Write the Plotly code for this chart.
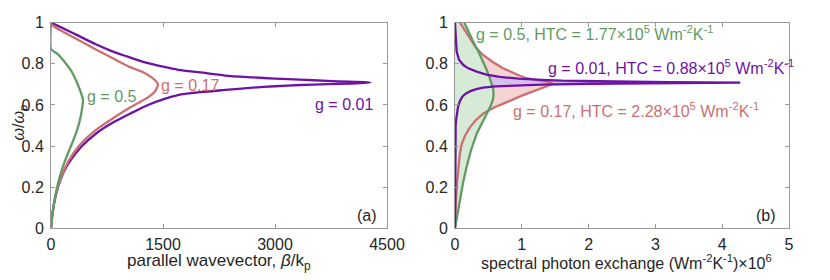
import plotly.graph_objects as go

# ---------- panel (a): dispersion, omega/omega_p vs beta/k_p ----------
beta_g001 = [0, 150, 366, 600, 812, 1000, 1259, 1500, 1705, 2000, 2330, 2700, 3000, 3334, 3700, 4000, 4280,
             4000, 3700, 3334, 3000, 2700, 2330, 2000, 1700, 1500, 1299, 1100, 853, 600, 406, 280, 183, 120, 71, 40, 15, 0]
omega_g001 = [1.0, 0.975, 0.937, 0.895, 0.862, 0.838, 0.807, 0.786, 0.771, 0.758, 0.743, 0.734, 0.728, 0.723, 0.717, 0.713, 0.709,
              0.704, 0.701, 0.697, 0.691, 0.684, 0.673, 0.662, 0.648, 0.627, 0.600, 0.565, 0.519, 0.460, 0.397, 0.340, 0.284, 0.230, 0.170, 0.120, 0.060, 0.0]

beta_g017 = [5, 150, 366, 600, 853, 1050, 1214, 1299, 1380, 1433, 1420, 1389, 1300, 1075, 850, 630, 450, 300, 183, 100, 40, 0]
omega_g017 = [0.99, 0.958, 0.916, 0.870, 0.822, 0.785, 0.762, 0.746, 0.725, 0.700, 0.685, 0.664, 0.637, 0.591, 0.540, 0.486, 0.430, 0.365, 0.290, 0.210, 0.120, 0.0]

beta_g05 = [0, 0, 30, 98, 180, 277, 340, 380, 410, 425, 428, 415, 395, 368, 333, 290, 245, 195, 145, 88, 49, 20, 0]
omega_g05 = [1.0, 0.872, 0.862, 0.845, 0.810, 0.762, 0.715, 0.680, 0.650, 0.630, 0.615, 0.580, 0.540, 0.500, 0.460, 0.420, 0.381, 0.335, 0.284, 0.210, 0.138, 0.070, 0.0]

# ---------- panel (b): spectral photon exchange (x1e6) vs omega/omega_p ----------
omega_b001 = [0, 0.3, 0.45, 0.5, 0.53, 0.56, 0.59, 0.62, 0.64, 0.655, 0.667, 0.677, 0.684, 0.69, 0.695, 0.699, 0.703, 0.706, 0.709,
              0.711, 0.714, 0.718, 0.722, 0.728, 0.737, 0.748, 0.762, 0.778, 0.794, 0.82, 0.86, 0.93, 1.0]
spe_b001 = [0, 0.002, 0.005, 0.01, 0.018, 0.03, 0.045, 0.075, 0.11, 0.16, 0.23, 0.32, 0.42, 0.60, 0.90, 1.3, 2.0, 3.0, 4.27,
            3.2, 2.3, 1.6, 1.3, 0.95, 0.67, 0.47, 0.325, 0.2, 0.125, 0.06, 0.025, 0.01, 0.0]

omega_b017 = [0, 0.07, 0.14, 0.22, 0.30, 0.36, 0.41, 0.45, 0.49, 0.525, 0.56, 0.59, 0.61, 0.63, 0.645, 0.66, 0.675, 0.688,
              0.698, 0.705, 0.712, 0.72, 0.73, 0.742, 0.755, 0.78, 0.81, 0.843, 0.88, 0.924, 0.96, 1.0]
spe_b017 = [0, 0.005, 0.015, 0.03, 0.05, 0.072, 0.10, 0.15, 0.22, 0.31, 0.43, 0.60, 0.75, 0.88, 1.0, 1.12, 1.25, 1.35,
            1.43, 1.46, 1.40, 1.25, 1.07, 0.97, 0.88, 0.71, 0.56, 0.42, 0.31, 0.225, 0.15, 0.075]

omega_b05 = [0, 0.07, 0.14, 0.22, 0.30, 0.38, 0.46, 0.52, 0.56, 0.60, 0.63, 0.655, 0.68, 0.70, 0.73, 0.77, 0.81, 0.86, 0.91, 0.955, 1.0]
spe_b05 = [0, 0.035, 0.075, 0.12, 0.175, 0.24, 0.325, 0.42, 0.48, 0.54, 0.57, 0.578, 0.57, 0.553, 0.52, 0.475, 0.42, 0.35, 0.27, 0.2, 0.14]

GREEN = "rgb(96,156,98)"
PINK = "rgb(201,112,112)"
PURPLE = "rgb(110,18,165)"
GREEN_F = "rgb(214,234,214)"
PINK_F = "rgb(246,212,212)"
PURPLE_F = "rgb(216,192,236)"
TXT = "#262626"
FONT = "Liberation Sans, Arial, sans-serif"

# page body has an 8 px margin: figure pixel = screen pixel - 8
W, H, OFF = 822, 272, 8


def px(xs):
    return (xs - OFF) / W


def py(ys):
    return 1 - (ys - OFF) / H


fig = go.Figure()

# panel (a) lines
for bx, wy, col in [(beta_g001, omega_g001, PURPLE), (beta_g017, omega_g017, PINK), (beta_g05, omega_g05, GREEN)]:
    fig.add_trace(go.Scatter(x=bx, y=wy, mode="lines", line=dict(color=col, width=2.3, shape="spline", smoothing=0.8),
                             xaxis="x", yaxis="y", showlegend=False, hoverinfo="skip"))

# panel (b) fills first (pink, purple, green)
for sx, wy, fc in [(spe_b017, omega_b017, PINK_F), (spe_b001, omega_b001, PURPLE_F), (spe_b05, omega_b05, GREEN_F)]:
    fig.add_trace(go.Scatter(x=sx, y=wy, mode="lines", fill="tozerox", fillcolor=fc, line=dict(width=0, color=fc),
                             xaxis="x2", yaxis="y2", showlegend=False, hoverinfo="skip"))
# panel (b) lines
for sx, wy, col in [(spe_b017, omega_b017, PINK), (spe_b05, omega_b05, GREEN), (spe_b001, omega_b001, PURPLE)]:
    fig.add_trace(go.Scatter(x=sx, y=wy, mode="lines", line=dict(color=col, width=2.3),
                             xaxis="x2", yaxis="y2", showlegend=False, hoverinfo="skip"))

axis_common = dict(showline=True, linecolor="#999999", linewidth=1, mirror="ticks", ticks="inside", ticklen=4,
                   tickcolor="#999999", showgrid=False, zeroline=False, automargin=False,
                   tickfont=dict(family=FONT, size=16, color=TXT))

ydom = [py(228.3), py(22.7)]
fig.update_layout(
    width=W, height=H, margin=dict(l=0, r=0, t=0, b=0),
    paper_bgcolor="white", plot_bgcolor="white",
    font=dict(family=FONT, size=16, color=TXT),
    xaxis=dict(domain=[px(51), px(387)], range=[0, 4500], tickvals=[0, 1500, 3000, 4500],
               ticklabelstandoff=1, anchor="y", **axis_common),
    yaxis=dict(domain=ydom, range=[0, 1], tickvals=[0, 0.2, 0.4, 0.6, 0.8, 1],
               ticktext=["0", "0.2", "0.4", "0.6", "0.8", "1"], ticklabelstandoff=3,
               anchor="x", **axis_common),
    xaxis2=dict(domain=[px(455), px(789)], range=[0, 5], tickvals=[0, 1, 2, 3, 4, 5],
                ticklabelstandoff=1, anchor="y2", **axis_common),
    yaxis2=dict(domain=ydom, range=[0, 1], tickvals=[0, 0.2, 0.4, 0.6, 0.8, 1],
                ticktext=["0", "0.2", "0.4", "0.6", "0.8", "1"], ticklabelstandoff=3,
                anchor="x2", **axis_common),
)

# axis titles
fig.add_annotation(x=px(219), y=py(262), xref="paper", yref="paper", showarrow=False,
                   text="parallel wavevector, <i>β</i>/k<sub>p</sub>", xanchor="center", yanchor="middle",
                   font=dict(family=FONT, size=17, color=TXT))
fig.add_annotation(x=px(626), y=py(262), xref="paper", yref="paper", showarrow=False,
                   text="spectral photon exchange (Wm<sup>-2</sup>K<sup>-1</sup>)×10<sup>6</sup>", xanchor="center",
                   yanchor="middle", font=dict(family=FONT, size=16, color=TXT))
fig.add_annotation(x=0, y=py(123), xref="paper", yref="paper", showarrow=False, textangle=-90,
                   text="<i>ω</i>/<i>ω</i><sub>p</sub>", xanchor="left", yanchor="middle", borderpad=0,
                   font=dict(family=FONT, size=16, color=TXT))

ann = [
    dict(x=469, y=0.64, xref="x", yref="y", text="g = 0.5", color=GREEN, xanchor="left"),
    dict(x=1460, y=0.697, xref="x", yref="y", text="g = 0.17", color=PINK, xanchor="left"),
    dict(x=3522, y=0.60, xref="x", yref="y", text="g = 0.01", color=PURPLE, xanchor="left"),
    dict(x=4380, y=0.06, xref="x", yref="y", text="(a)", color=TXT, xanchor="right"),
    dict(x=0.30, y=0.948, xref="x2", yref="y2",
         text="g = 0.5, HTC = 1.77×10<sup>5</sup> Wm<sup>-2</sup>K<sup>-1</sup>", color=GREEN, xanchor="left"),
    dict(x=1.37, y=0.785, xref="x2", yref="y2",
         text="g = 0.01, HTC = 0.88×10<sup>5</sup> Wm<sup>-2</sup>K<sup>-1</sup>", color=PURPLE, xanchor="left"),
    dict(x=0.85, y=0.575, xref="x2", yref="y2",
         text="g = 0.17, HTC = 2.28×10<sup>5</sup> Wm<sup>-2</sup>K<sup>-1</sup>", color=PINK, xanchor="left"),
    dict(x=4.82, y=0.06, xref="x2", yref="y2", text="(b)", color=TXT, xanchor="right"),
]
for a in ann:
    fig.add_annotation(x=a["x"], y=a["y"], xref=a["xref"], yref=a["yref"], text=a["text"], showarrow=False,
                       xanchor=a["xanchor"], yanchor="middle", borderpad=0,
                       font=dict(family=FONT, size=16, color=a["color"]))

fig.write_html("out.html")
